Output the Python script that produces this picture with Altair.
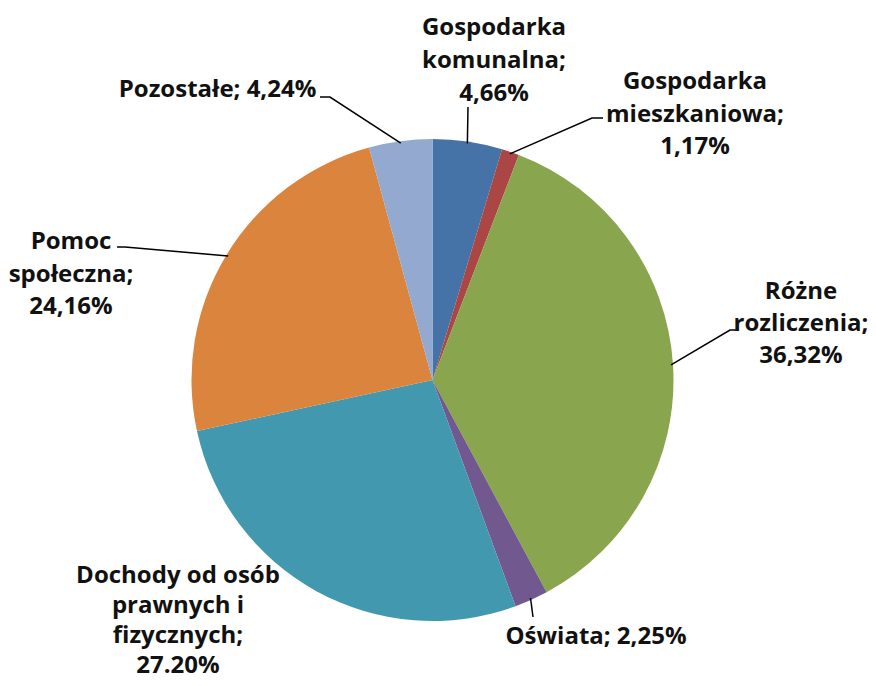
import math
import altair as alt
import pandas as pd

# ---- data ----
categories = [
    "Gospodarka komunalna",
    "Gospodarka mieszkaniowa",
    "Różne rozliczenia",
    "Oświata",
    "Dochody od osób prawnych i fizycznych",
    "Pomoc społeczna",
    "Pozostałe",
]
shares = [4.66, 1.17, 36.32, 2.25, 27.20, 24.16, 4.24]
label_lines = [
    ["Gospodarka", "komunalna;", "4,66%"],
    ["Gospodarka", "mieszkaniowa;", "1,17%"],
    ["Różne", "rozliczenia;", "36,32%"],
    ["Oświata; 2,25%"],
    ["Dochody od osób", "prawnych i", "fizycznych;", "27.20%"],
    ["Pomoc", "społeczna;", "24,16%"],
    ["Pozostałe; 4,24%"],
]

# ---- styles / layout ----
colors = ["#4572A7", "#AA4643", "#89A54E", "#71588F", "#4198AF", "#DB843D", "#93A9CF"]
W, H = 860, 670
CX, CY, R = 424.5, 372.0, 241.0
# first-line centres of the labels (chart pixel coords)
label_pos = [(486, 20), (687, 74), (793, 284), (588, 629), (170, 568), (63, 234), (209.5, 82)]
line_heights = [33, 32.5, 32, 32, 30, 32.5, 32]
# leader line points after the pie-edge anchor (None = no leader line)
leader_pts = [
    [(460, 99)],
    [(584, 110), (595, 110)],
    [(722, 322), (730, 322)],
    [(525, 609)],
    None,
    [(117, 239), (109, 239)],
    [(322, 89), (312, 89)],
]

total = sum(shares)
slices = pd.DataFrame({"category": categories, "share": shares, "idx": list(range(len(shares)))})

labels = pd.DataFrame({
    "category": categories,
    "text": label_lines,
    "px": [p[0] for p in label_pos],
    "py": [p[1] for p in label_pos],
    "lh": line_heights,
})

rows = []
cum = 0.0
for i, s in enumerate(shares):
    mid = (cum + s / 2) / total * 2 * math.pi
    cum += s
    if leader_pts[i] is None:
        continue
    ax = CX + (R - 2) * math.sin(mid)
    ay = CY - (R - 2) * math.cos(mid)
    pts = [(ax, ay)] + leader_pts[i]
    for j, (x, y) in enumerate(pts):
        rows.append({"category": categories[i], "k": j, "px": x, "py": y})
lines = pd.DataFrame(rows)

pie = alt.Chart(slices).mark_arc(radius=R, stroke=None).encode(
    theta=alt.Theta("share:Q", stack=True),
    color=alt.Color("category:N", scale=alt.Scale(domain=categories, range=colors), legend=None),
    order=alt.Order("idx:Q"),
    x=alt.value(CX),
    y=alt.value(CY),
)

leaders = alt.Chart(lines).mark_line(color="#000000", strokeWidth=1.5).encode(
    x=alt.X("px:Q", scale=None, axis=None),
    y=alt.Y("py:Q", scale=None, axis=None),
    detail="category:N",
    order="k:Q",
)

text_layers = []
for lh in sorted(set(line_heights)):
    text_layers.append(
        alt.Chart(labels[labels["lh"] == lh]).mark_text(
            font="Open Sans", fontWeight="bold", fontSize=24, lineHeight=lh,
            align="center", baseline="middle", color="#111111",
        ).encode(
            x=alt.X("px:Q", scale=None, axis=None),
            y=alt.Y("py:Q", scale=None, axis=None),
            text="text",
        )
    )

chart = alt.layer(pie, leaders, *text_layers).properties(
    width=W, height=H, autosize="none", padding=0, background="white"
).configure_view(stroke=None)

chart.save("out.html", embed_options={"renderer": "svg", "actions": False})
